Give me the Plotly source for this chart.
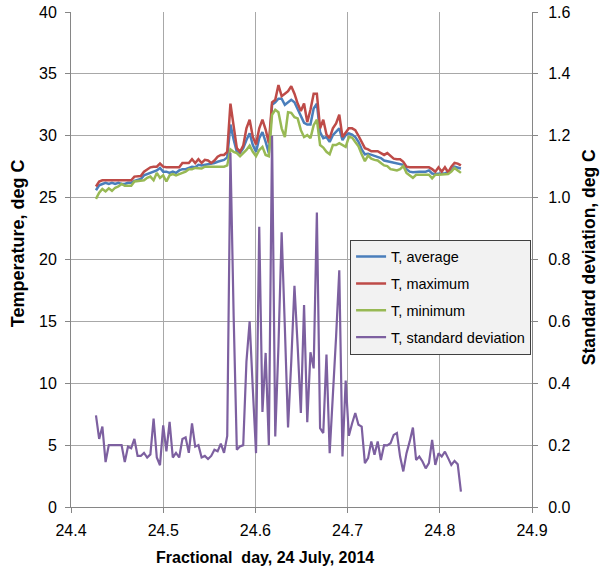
import plotly.graph_objects as go

# Sampling: 5-minute records starting 10:15 on 24 July 2014 (fractional day)
START_DAY = 24 + 615 / 1440
STEP_DAY = 5 / 1440

t_max = [25.9, 26.3, 26.4, 26.4, 26.4, 26.4, 26.4, 26.4, 26.4, 26.4, 26.4, 26.4,
         26.7, 26.75, 26.75, 27.1, 27.3, 27.45, 27.5, 27.5, 27.75, 27.5,
         27.45, 27.45, 27.45, 27.45, 27.45,
         27.8, 27.8, 27.8, 28.1, 27.8, 28.1, 27.8, 28.05, 28.0, 27.8, 28.0, 28.3, 28.45, 28.45, 28.7,
         32.6, 30.6, 29.0, 28.7, 29.2, 30.6, 31.3, 29.9, 29.3, 30.6, 31.3, 30.5, 29.4,
         32.7, 32.9, 34.1, 33.2, 33.4, 33.6, 34.0, 33.4, 32.6, 32.0, 32.6, 31.1, 32.1,
         33.4, 33.4, 30.6, 31.3, 30.1, 29.8, 30.6, 31.0, 31.7, 29.9, 30.3,
         30.6, 30.6, 30.45, 30.0, 29.5, 29.0, 28.9, 28.75, 28.75, 28.75,
         28.6, 28.45, 28.6, 28.35, 28.15, 28.1, 28.1, 27.9, 27.5, 27.45, 27.45, 27.45, 27.45,
         27.45, 27.45, 27.45, 27.3, 27.1, 27.45, 27.1, 27.45, 27.05, 27.5, 27.8, 27.75, 27.6]

t_avg = [25.6, 26.0, 26.1, 26.2, 26.1, 26.2, 26.1, 26.2, 26.1, 26.1, 26.2, 26.2,
         26.35, 26.45, 26.5, 26.8, 26.9, 27.0, 27.1, 27.2, 27.4, 27.1,
         27.1, 27.0, 27.1, 27.0, 27.2,
         27.3, 27.3, 27.4, 27.5, 27.45, 27.65, 27.6, 27.65, 27.65, 27.7, 27.8, 27.9, 28.0, 28.05, 28.25,
         30.9, 29.7, 28.7, 28.6, 29.0, 29.65, 30.2, 29.25, 28.7, 29.8, 30.3, 29.5, 28.6,
         32.5, 32.7, 33.0, 33.0, 32.5, 32.7, 32.9, 32.7, 32.1, 31.5, 31.05, 30.9, 30.9,
         32.2, 32.6, 30.3, 29.8, 29.9, 29.5, 30.05, 30.3, 30.6, 29.65, 30.05,
         30.2, 30.1, 29.9, 29.5, 28.9, 28.5, 28.55, 28.45, 28.35, 28.3,
         28.2, 28.0, 27.95, 27.85, 27.8, 27.75, 27.7, 27.65, 27.3, 27.1, 27.05, 27.1, 27.1,
         27.1, 27.1, 27.2, 26.95, 26.9, 26.95, 26.95, 26.95, 27.05, 27.2, 27.5, 27.4, 27.35]

t_min = [24.9, 25.4, 25.7, 25.5, 25.75, 25.55, 25.8, 25.9, 26.1, 25.95, 25.95, 25.95,
         26.3, 26.35, 26.4, 26.4, 26.6, 26.7, 26.4, 27.0, 26.6, 26.8,
         26.3, 26.8, 26.9, 26.8, 26.9,
         27.0, 27.1, 27.3, 27.3, 27.4, 27.4, 27.35, 27.5, 27.5, 27.5, 27.5, 27.5, 27.5, 27.5, 27.6,
         28.9, 28.7, 28.6, 28.35, 28.6, 28.85, 29.2, 28.7, 28.35, 28.85, 29.1, 28.45, 28.35,
         31.7, 32.1, 31.9, 30.6, 29.9, 31.9, 31.85, 31.5, 31.4, 30.45, 29.9, 30.05, 29.8,
         30.85, 31.3, 29.25, 29.05, 28.7, 28.5, 29.25, 29.25, 29.4, 29.25, 29.1,
         29.9, 29.85, 29.5, 29.15, 28.5, 27.95, 28.4, 28.15, 28.05, 28.0,
         27.8, 27.6, 27.55, 27.3, 27.25, 27.2, 27.3, 27.55, 27.0, 26.8, 26.6, 26.85, 26.85,
         26.85, 26.85, 26.85, 26.55, 26.85, 26.85, 26.85, 26.85, 26.9, 27.1, 27.4, 27.2, 27.0]

t_sd = [0.296, 0.22, 0.26, 0.145, 0.20, 0.20, 0.20, 0.20, 0.20, 0.145, 0.195, 0.19,
        0.22, 0.165, 0.165, 0.175, 0.16, 0.17, 0.286, 0.16, 0.135, 0.264, 0.18, 0.275,
        0.16, 0.175, 0.16, 0.22, 0.225, 0.175, 0.27, 0.195, 0.2, 0.16, 0.165, 0.155,
        0.165, 0.185, 0.18, 0.205, 0.175, 0.23,
        1.145, 0.62, 0.185, 0.196, 0.2, 0.47, 0.6, 0.38, 0.174, 0.906, 0.307, 0.498, 0.2,
        1.2, 0.228, 0.52, 0.888, 0.58, 0.257, 0.47, 0.715, 0.52, 0.304, 0.653, 0.274, 0.5,
        0.448, 0.952, 0.255, 0.239, 0.493, 0.174, 0.35, 0.55, 0.765, 0.163, 0.409,
        0.23, 0.27, 0.304, 0.266, 0.26, 0.142, 0.158, 0.212, 0.169, 0.212,
        0.152, 0.2, 0.199, 0.206, 0.233, 0.239, 0.163, 0.115, 0.174, 0.212, 0.257, 0.152, 0.163,
        0.147, 0.125, 0.142, 0.217, 0.136, 0.174, 0.163, 0.179, 0.158, 0.136, 0.149, 0.138, 0.05]

series_names = ["T, average", "T, maximum", "T, minimum", "T, standard deviation"]
series_colors = ["#4a7ebb", "#be4b48", "#98b954", "#7d60a0"]
x_ticks = [24.4, 24.5, 24.6, 24.7, 24.8, 24.9]

n = len(t_avg)
assert len(t_max) == n and len(t_min) == n and len(t_sd) == n
days = [START_DAY + k * STEP_DAY for k in range(n)]

FONT = "Liberation Sans"
GRID = "#a8a8a8"
AXIS = "#868686"

fig = go.Figure()
for vals, name, color, width, yax in [
    (t_avg, series_names[0], series_colors[0], 2.5, "y"),
    (t_max, series_names[1], series_colors[1], 2.5, "y"),
    (t_min, series_names[2], series_colors[2], 2.5, "y"),
    (t_sd, series_names[3], series_colors[3], 2.2, "y2"),
]:
    fig.add_trace(go.Scatter(x=days, y=vals, name=name, mode="lines", legendgroup=name,
                             line=dict(color=color, width=width), yaxis=yax))

fig.update_layout(
    width=600, height=573,
    margin=dict(l=71, r=68, t=12, b=66, autoexpand=False),
    paper_bgcolor="white", plot_bgcolor="white",
    font=dict(family=FONT, size=16, color="#000000"),
    showlegend=True,
    legend=dict(x=0.998, y=0.54, xanchor="right", yanchor="top",
                bgcolor="#f2f2f2", bordercolor="#404040", borderwidth=1,
                font=dict(family=FONT, size=14.5, color="#000000"),
                tracegroupgap=5, itemwidth=30),
    xaxis=dict(range=[24.4, 24.9], tickvals=x_ticks, tickformat=".1f",
               showgrid=True, gridcolor=GRID, gridwidth=1,
               showline=True, linecolor=AXIS, linewidth=1,
               ticks="outside", ticklen=5, tickcolor=AXIS, ticklabelstandoff=4,
               zeroline=False, automargin=False),
    yaxis=dict(range=[0, 40], dtick=5, showgrid=True, gridcolor=GRID, gridwidth=1,
               showline=True, linecolor=AXIS, linewidth=1,
               ticks="outside", ticklen=5, tickcolor=AXIS, ticklabelstandoff=5,
               zeroline=False, automargin=False),
    yaxis2=dict(range=[0, 1.6], dtick=0.2, tickformat=".1f", overlaying="y", side="right",
                showgrid=False, showline=True, linecolor=AXIS, linewidth=1,
                ticks="outside", ticklen=5, tickcolor=AXIS, ticklabelstandoff=7,
                zeroline=False, automargin=False),
    annotations=[
        dict(text="<b>Fractional  day, 24 July, 2014</b>", xref="paper", yref="paper",
             x=0.42, y=-0.103, xanchor="center", yanchor="middle", showarrow=False,
             font=dict(family=FONT, size=16, color="#000000")),
        dict(text="<b>Temperature, deg C</b>", xref="paper", yref="paper",
             x=-0.115, y=0.533, xanchor="center", yanchor="middle", showarrow=False,
             textangle=-90, font=dict(family=FONT, size=18, color="#000000")),
        dict(text="<b>Standard deviation, deg C</b>", xref="paper", yref="paper",
             x=1.124, y=0.505, xanchor="center", yanchor="middle", showarrow=False,
             textangle=-90, font=dict(family=FONT, size=17.5, color="#000000")),
    ],
)

fig.write_html("out.html", config={"displayModeBar": False},
               post_script="document.body.style.margin='0';")
